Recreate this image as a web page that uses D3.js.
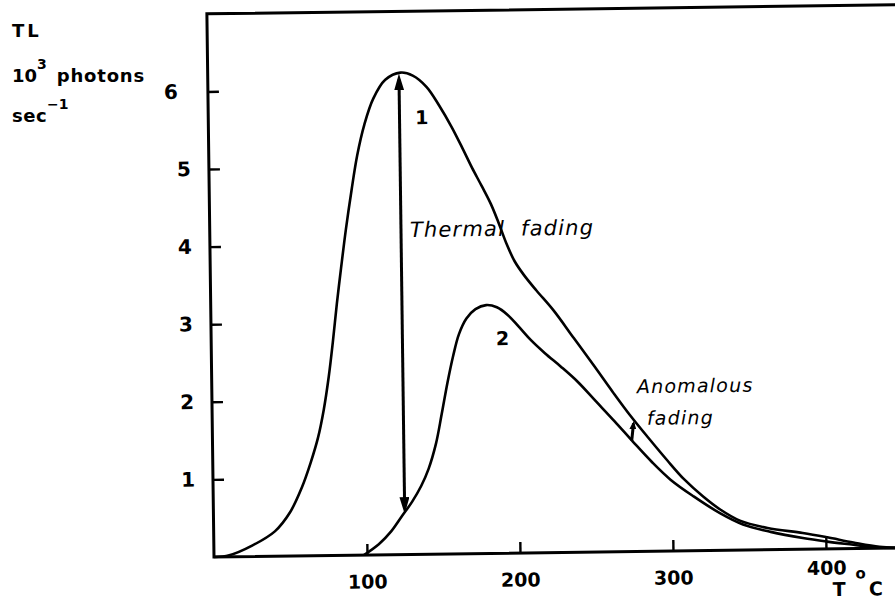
<!DOCTYPE html>
<html>
<head>
<meta charset="utf-8">
<script src="https://cdn.jsdelivr.net/npm/d3@7"></script>
<style>
  html, body { margin: 0; padding: 0; background: #fff; }
  svg { display: block; }
</style>
</head>
<body>
<svg id="chart" width="895" height="614"></svg>
<script>
// Glow curve 1 (freshly irradiated): temperature in °C, TL in 10^3 photons/s
const temperature1 = [0, 10, 25, 40, 50, 58, 64, 69, 73, 76.5, 79.5, 82.5, 85.5, 89, 93, 97, 102, 108, 116, 126, 134, 143, 151, 159, 166, 172, 178, 184, 189, 194, 199, 205, 213, 224, 237, 250, 262, 273, 285, 297, 308, 320, 331, 344, 362, 385, 401, 418, 435, 450];
const glow1 = [0, 0.02, 0.14, 0.32, 0.56, 0.88, 1.2, 1.52, 1.88, 2.3, 2.75, 3.25, 3.7, 4.2, 4.7, 5.15, 5.55, 5.88, 6.12, 6.21, 6.17, 6.02, 5.78, 5.50, 5.22, 4.97, 4.74, 4.50, 4.25, 3.98, 3.76, 3.58, 3.38, 3.12, 2.76, 2.40, 2.06, 1.76, 1.46, 1.17, 0.92, 0.70, 0.53, 0.38, 0.28, 0.21, 0.15, 0.08, 0.02, 0];

// Glow curve 2 (after storage)
const temperature2 = [98, 108, 116, 123, 130, 136, 141, 146, 150, 154, 158, 162, 167, 173, 180, 187, 194, 201, 209, 218, 228, 239, 251, 263, 275, 287, 299, 314, 331, 346, 364, 385, 401, 418, 431, 450];
const glow2 = [0, 0.14, 0.3, 0.49, 0.68, 0.88, 1.1, 1.42, 1.8, 2.2, 2.55, 2.83, 3.03, 3.15, 3.2, 3.17, 3.07, 2.92, 2.74, 2.57, 2.40, 2.20, 1.94, 1.68, 1.41, 1.15, 0.92, 0.70, 0.48, 0.33, 0.23, 0.145, 0.095, 0.05, 0.015, 0];

const xTickValues = [100, 200, 300, 400];
const yTickValues = [1, 2, 3, 4, 5, 6];

// Arrow between the curves: [temperature, lower TL, upper TL]
const thermalArrow = [125, 0.52, 6.2];
const anomalousArrow = [274, 1.43, 1.73];

const curveLabels = ["1", "2"];
const curveLabelT = [139.5, 190.4];
const curveLabelV = [5.63, 2.77];

// ---------------------------------------------------------------
const tMax = 450, vMax = 7;
const font = "'DejaVu Sans', sans-serif";

const svg = d3.select("#chart");

// Plot group: origin at the lower-left corner, slightly tilted like the printed page
const g = svg.append("g")
  .attr("transform", "translate(214,557) rotate(-0.75)");

const x = d3.scaleLinear().domain([0, tMax]).range([0, tMax * 1.53]);
const y = d3.scaleLinear().domain([0, vMax]).range([0, -vMax * 77.6]);

// Frame: top edge, left axis and bottom axis
g.append("path")
  .attr("d", `M${x(tMax)},${y(vMax)}H${x(0)}V${y(0)}H${x(tMax)}`)
  .attr("fill", "none")
  .attr("stroke", "#000")
  .attr("stroke-width", 3)
  .attr("stroke-linejoin", "miter");

// Y axis ticks (pointing inward)
const yAxis = d3.axisLeft(y)
  .tickValues(yTickValues)
  .tickFormat(d3.format("d"))
  .tickSizeInner(-11)
  .tickSizeOuter(0)
  .tickPadding(18);

const yAxisG = g.append("g").call(yAxis);
yAxisG.select(".domain").remove();
yAxisG.selectAll(".tick line").attr("stroke", "#000").attr("stroke-width", 2.4);
yAxisG.selectAll(".tick text")
  .attr("font-family", font)
  .attr("font-size", 20)
  .attr("font-weight", "bold")
  .attr("fill", "#000")
  .attr("dx", d => d === 6 ? -12 : 0);

// X axis ticks (pointing inward)
const xAxis = d3.axisBottom(x)
  .tickValues(xTickValues)
  .tickFormat(d3.format("d"))
  .tickSizeInner(-11)
  .tickSizeOuter(0)
  .tickPadding(20);

const xAxisG = g.append("g").call(xAxis);
xAxisG.select(".domain").remove();
xAxisG.selectAll(".tick line").attr("stroke", "#000").attr("stroke-width", 2.4);
xAxisG.selectAll(".tick text")
  .attr("font-family", font)
  .attr("font-size", 19)
  .attr("font-weight", "bold")
  .attr("fill", "#000")
  .attr("dy", d => d === 400 ? "0.3em" : "0.71em");

// X axis title: T °C
const xTitle = g.append("text")
  .attr("x", x(404))
  .attr("y", 47)
  .attr("font-family", font)
  .attr("font-size", 19)
  .attr("font-weight", "bold")
  .attr("fill", "#000");
xTitle.append("tspan").text("T");
xTitle.append("tspan").attr("dx", 10).attr("dy", -17).attr("font-size", 15).text("o");
xTitle.append("tspan").attr("dx", 3).attr("dy", 17).text("C");

// Glow curves
const line = d3.line()
  .x(d => x(d[0]))
  .y(d => y(d[1]))
  .curve(d3.curveCatmullRom.alpha(0.5));

const series = [
  d3.zip(temperature1, glow1),
  d3.zip(temperature2, glow2)
];

g.selectAll("path.glow")
  .data(series)
  .join("path")
  .attr("class", "glow")
  .attr("d", line)
  .attr("fill", "none")
  .attr("stroke", "#000")
  .attr("stroke-width", 2.6)
  .attr("stroke-linejoin", "round");

// Arrow heads
const defs = svg.append("defs");
defs.append("marker")
  .attr("id", "headBig")
  .attr("viewBox", "0 -5 17 10")
  .attr("refX", 11)
  .attr("refY", 0)
  .attr("markerUnits", "userSpaceOnUse")
  .attr("markerWidth", 17)
  .attr("markerHeight", 10)
  .attr("orient", "auto-start-reverse")
  .append("path")
  .attr("d", "M0,-5L17,0L0,5Z")
  .attr("fill", "#000");

defs.append("marker")
  .attr("id", "headSmall")
  .attr("viewBox", "0 -3.5 8 7")
  .attr("refX", 6)
  .attr("refY", 0)
  .attr("markerUnits", "userSpaceOnUse")
  .attr("markerWidth", 8)
  .attr("markerHeight", 7)
  .attr("orient", "auto")
  .append("path")
  .attr("d", "M0,-3.5L8,0L0,3.5Z")
  .attr("fill", "#000");

// Thermal fading: double arrow from curve 2 up to the peak of curve 1
g.append("line")
  .attr("x1", x(thermalArrow[0]))
  .attr("x2", x(thermalArrow[0]))
  .attr("y1", y(thermalArrow[1]) - 6)
  .attr("y2", y(thermalArrow[2]) + 6)
  .attr("stroke", "#000")
  .attr("stroke-width", 3)
  .attr("marker-start", "url(#headBig)")
  .attr("marker-end", "url(#headBig)");

// Anomalous fading: short arrow between the two curves
g.append("line")
  .attr("x1", x(anomalousArrow[0]))
  .attr("x2", x(anomalousArrow[0]) + 2)
  .attr("y1", y(anomalousArrow[1]))
  .attr("y2", y(anomalousArrow[2]) + 6)
  .attr("stroke", "#000")
  .attr("stroke-width", 3)
  .attr("marker-end", "url(#headSmall)");

// Curve numbers
g.selectAll("text.curve-label")
  .data(curveLabels)
  .join("text")
  .attr("class", "curve-label")
  .attr("x", (d, i) => x(curveLabelT[i]))
  .attr("y", (d, i) => y(curveLabelV[i]))
  .attr("dy", "0.36em")
  .attr("text-anchor", "middle")
  .attr("font-family", font)
  .attr("font-size", 19)
  .attr("font-weight", "bold")
  .attr("fill", "#000")
  .text(d => d);

// Annotations
const italic = sel => sel
  .attr("font-family", font)
  .attr("font-style", "italic")
  .attr("font-size", 21)
  .attr("letter-spacing", 1.2)
  .attr("fill", "#000");

g.append("text")
  .attr("x", x(130.8))
  .attr("y", y(4.09))
  .attr("word-spacing", 8)
  .call(italic)
  .text("Thermal fading");

g.append("text")
  .attr("x", x(277.9))
  .attr("y", y(2.04))
  .call(italic)
  .attr("font-size", 19)
  .text("Anomalous");

g.append("text")
  .attr("x", x(284.1))
  .attr("y", y(1.63))
  .call(italic)
  .attr("font-size", 19)
  .text("fading");

// Y axis title
const yTitle = svg.append("g")
  .attr("font-family", font)
  .attr("font-weight", "bold")
  .attr("fill", "#000");

yTitle.append("text")
  .attr("x", 12).attr("y", 37)
  .attr("font-size", 18)
  .attr("letter-spacing", 3)
  .text("TL");

const l2 = yTitle.append("text").attr("x", 12).attr("y", 82).attr("font-size", 18);
l2.append("tspan").text("10");
l2.append("tspan").attr("dy", -13).attr("font-size", 14).text("3");
l2.append("tspan").attr("dx", 10).attr("dy", 13).attr("letter-spacing", 0.8).text("photons");

const l3 = yTitle.append("text").attr("x", 12).attr("y", 122).attr("font-size", 18);
l3.append("tspan").attr("letter-spacing", 0.5).text("sec");
l3.append("tspan").attr("dy", -13).attr("font-size", 14).text("\u22121");
</script>
</body>
</html>
